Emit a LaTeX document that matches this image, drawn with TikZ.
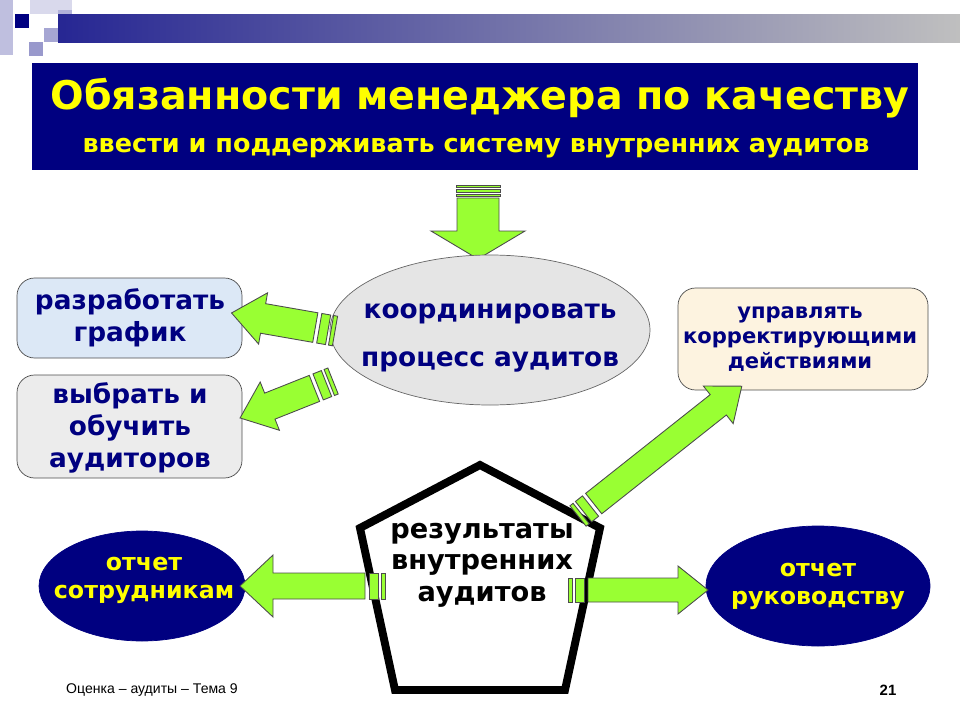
\documentclass[tikz,border=0pt]{standalone}
\usepackage{fontspec}
\setmainfont{DejaVu Sans}
\newfontfamily\footfont{Liberation Sans}
\usetikzlibrary{calc}
\definecolor{navy}{RGB}{0,0,128}
\definecolor{arrowgreen}{RGB}{153,255,51}
\definecolor{boxblue}{RGB}{220,232,246}
\definecolor{boxgray}{RGB}{236,236,236}
\definecolor{boxbeige}{RGB}{253,243,224}
\definecolor{titleyellow}{RGB}{255,255,0}
\tikzset{
  greenpart/.style={draw=black!70,fill=arrowgreen,line width=0.5pt,line join=miter},
  sidebox/.style={draw=black!70,rounded corners=10pt}
}
% #1 tail, #2 angle, #3 length, #4 body half, #5 head half, #6 head length
\newcommand{\stripearrow}[6]{
  \begin{scope}[shift={#1},rotate=#2]
    \draw[greenpart] (0,-#4) rectangle (4,#4);
    \draw[greenpart] (7,-#4) rectangle (16,#4);
    \draw[greenpart] (20,-#4) -- ({#3-#6},-#4) -- ({#3-#6},-#5) -- (#3,0)
      -- ({#3-#6},#5) -- ({#3-#6},#4) -- (20,#4) -- cycle;
  \end{scope}}
\begin{document}
\begin{tikzpicture}[x=0.02cm,y=-0.02cm]
  \useasboundingbox (0,0) rectangle (960,720);

  % header decoration
  \fill[navy!25] (0,0) rectangle (13,55);
  \fill[navy!15] (30,0) rectangle (72,14);
  \fill[navy!30] (58,10) rectangle (72,28);
  \fill[navy] (15,14) rectangle (29,28);
  \fill[navy!35] (44,28) rectangle (58,42);
  \fill[navy!40] (29,42) rectangle (43,56);
  \shade[left color=navy!85,right color=black!25] (58,14) rectangle (960,42);

  % title
  \fill[navy] (32,63) rectangle (918,170);
  \node[text=titleyellow,font=\bfseries\fontsize{22.5}{26}\selectfont] (title) at (480,98) {Обязанности менеджера по качеству};
  \node[text=titleyellow,font=\bfseries\fontsize{14.5}{17}\selectfont] (subtitle) at (476,148) {ввести и поддерживать систему внутренних аудитов};

  % down arrow
  \begin{scope}[shift={(478,185)},rotate=-90]
    \draw[greenpart] (0,-22) rectangle (2,22);
    \draw[greenpart] (4,-22) rectangle (7,22);
    \draw[greenpart] (9,-22) rectangle (11,22);
    \draw[greenpart] (13,-21) -- (46,-21) -- (46,-47) -- (74,0) -- (46,47) -- (46,21) -- (13,21) -- cycle;
  \end{scope}

  % centre ellipse
  \draw[black!60,fill=black!10] (490,330) ellipse [x radius=160,y radius=75];
  \node[text=navy,font=\bfseries\fontsize{15}{27}\selectfont,align=center] (coord) at (490,338) {координировать\\процесс аудитов};

  % left boxes
  \draw[sidebox,fill=boxblue] (17,278) rectangle (242,358);
  \node[text=navy,font=\bfseries\fontsize{15}{18}\selectfont,align=center] (plan) at (130,318) {разработать\\график};
  \draw[sidebox,fill=boxgray] (17,375) rectangle (242,478);
  \node[text=navy,font=\bfseries\fontsize{15}{18}\selectfont,align=center] (train) at (130,428) {выбрать и\\обучить\\аудиторов};

  % right box
  \draw[sidebox,fill=boxbeige] (678,288) rectangle (928,390);
  \node[text=navy,font=\bfseries\fontsize{12}{14}\selectfont,align=center] (manage) at (800,339) {управлять\\корректирующими\\действиями};

  % pentagon
  \draw[line width=4.5pt,line join=miter,fill=white] (480,465) -- (600,528) -- (565,690) -- (395,690) -- (360,528) -- cycle;
  \node[font=\bfseries\fontsize{15.5}{18}\selectfont,align=center] (results) at (482,565) {результаты\\внутренних\\аудитов};

  % report ellipses
  \draw[fill=navy,draw=navy] (142,586) ellipse [x radius=103,y radius=55];
  \node[text=titleyellow,font=\bfseries\fontsize{13.5}{16}\selectfont,align=center] (staff) at (144,580) {отчет\\сотрудникам};
  \draw[fill=navy,draw=navy] (818,586) ellipse [x radius=112,y radius=60];
  \node[text=titleyellow,font=\bfseries\fontsize{13.5}{16}\selectfont,align=center] (mgmt) at (818,586) {отчет\\руководству};

  % arrows
  \stripearrow{(335,331)}{170.1}{105}{15}{26}{32}
  \stripearrow{(333,381)}{201.7}{100}{14}{26}{32}
  \stripearrow{(578,516)}{38.4}{209}{13}{24}{30}
  \stripearrow{(385,586)}{180}{145}{13}{31}{33}
  \stripearrow{(568,590)}{0}{140}{12}{24}{30}

  % footer
  \node[anchor=west,font=\footfont\fontsize{8}{10}\selectfont] (foot) at (60,690) {Оценка – аудиты – Тема 9};
  \node[font=\footfont\bfseries\fontsize{8.5}{10}\selectfont] (page) at (888,690) {21};
\end{tikzpicture}
\end{document}
